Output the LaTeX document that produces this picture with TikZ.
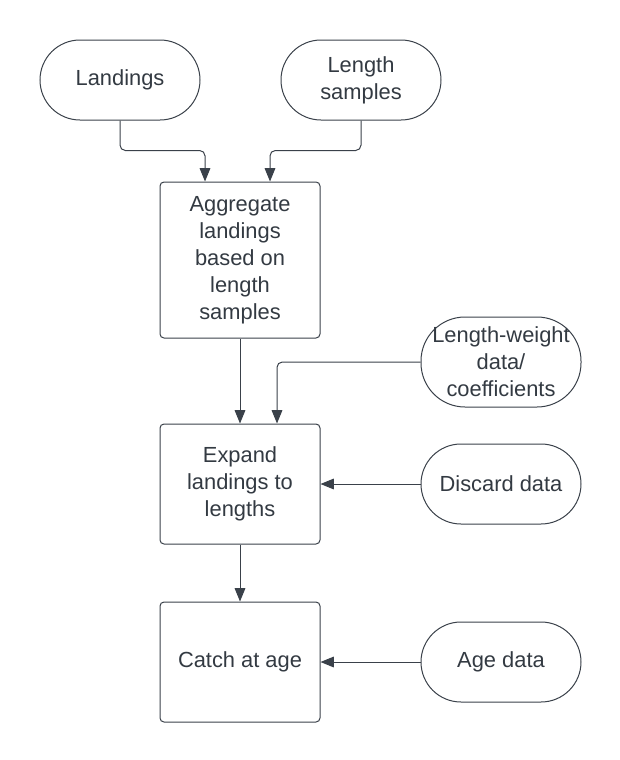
\documentclass[tikz,border=0pt]{standalone}
\usepackage{fontspec}
\setmainfont{Liberation Sans}
\usepackage{xcolor}
\definecolor{colorLine}{HTML}{3A414A}
\definecolor{colorText}{HTML}{333A42}
\usetikzlibrary{arrows.meta, positioning}
\tikzset{
  box/.style={draw=colorLine, line width=0.75pt, rounded corners=3pt, minimum width=120pt, minimum height=90pt, inner sep=1pt, align=center, text=colorText, font=\fontsize{16.4}{20.25}\selectfont},
  terminal/.style={box, minimum height=60pt, rounded corners=30pt},
  link/.style={->, draw=colorLine, line width=0.75pt, rounded corners=4pt}
}
\begin{document}
\begin{tikzpicture}[>={Triangle[length=10pt,width=8pt]}]
\useasboundingbox (0pt,0pt) rectangle (465pt,-570pt);
\node[box, minimum height=117pt] (agg) at (180pt,-195pt) {Aggregate\\landings\\based on\\length\\samples};
\node[terminal] (land) at (90pt,-60pt) {Landings};
\node[terminal, right=60pt of land] (lens) {Length\\samples};
\node[box, below=63.75pt of agg] (exp) {Expand\\landings to\\lengths};
\node[box, below=42.75pt of exp] (caa) {Catch at age};
\node[terminal, right=75pt of exp] (disc) {Discard data};
\node[terminal, right=75pt of caa] (age) {Age data};
\node[terminal, minimum height=67.5pt, rounded corners=33pt, above=27pt of disc] (lw) {Length-weight\\data/\\coefficients};
\draw[link] (land.south) -- ++(0,-22.5pt) -| ([xshift=-26.25pt]agg.north);
\draw[link] (lens.south) -- ++(0,-22.5pt) -| ([xshift=22.5pt]agg.north);
\draw[link] (agg) -- (exp);
\draw[link] (lw.west) -| ([xshift=27.75pt]exp.north);
\draw[link] (disc) -- (exp);
\draw[link] (exp) -- (caa);
\draw[link] (age) -- (caa);
\end{tikzpicture}
\end{document}
